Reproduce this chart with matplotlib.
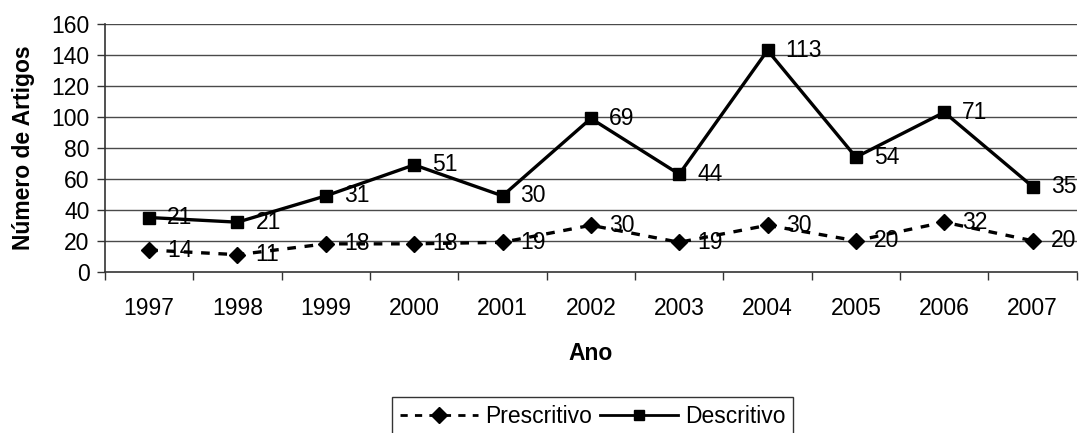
import numpy as np
import matplotlib
matplotlib.use("Agg")
import matplotlib.pyplot as plt
from matplotlib.ticker import FixedLocator, NullFormatter

plt.rcParams["font.family"] = ["Liberation Sans", "DejaVu Sans"]

anos = ["1997", "1998", "1999", "2000", "2001", "2002", "2003", "2004", "2005", "2006", "2007"]
prescritivo = [14, 11, 18, 18, 19, 30, 19, 30, 20, 32, 20]
descritivo = [21, 21, 31, 51, 30, 69, 44, 113, 54, 71, 35]
y_ticks = [0, 20, 40, 60, 80, 100, 120, 140, 160]

FS = 16.5

# stacked line chart: descritivo sits on top of prescritivo
x = np.arange(len(anos))
pres = np.array(prescritivo)
topo = pres + np.array(descritivo)

fig = plt.figure(figsize=(10.8, 4.33), dpi=100)
ax = fig.add_axes([0.0972, 0.3725, 0.8998, 0.572])

for yv in y_ticks[1:]:
    ax.axhline(yv, color="#4a4a4a", linewidth=1.0, zorder=0)

ax.plot(x, pres, color="black", linewidth=2.4, linestyle=(0, (2.6, 2.6)),
        marker="D", markersize=8, label="Prescritivo", zorder=3)
ax.plot(x, topo, color="black", linewidth=2.4, linestyle="-",
        marker="s", markersize=8, label="Descritivo", zorder=3)

for xi, yv, v in zip(x, pres, prescritivo):
    ax.annotate(str(v), (xi, yv), xytext=(13, 0), textcoords="offset points",
                ha="left", va="center", fontsize=FS, zorder=4)
for xi, yv, v in zip(x, topo, descritivo):
    ax.annotate(str(v), (xi, yv), xytext=(13, 0), textcoords="offset points",
                ha="left", va="center", fontsize=FS, zorder=4)

ax.set_xlim(-0.5, len(anos) - 0.5)
ax.set_ylim(0, 160)
ax.set_yticks(y_ticks)

# category boundaries carry the tick marks, labels sit at centres
ax.xaxis.set_major_locator(FixedLocator(np.arange(-0.5, len(anos), 1.0)))
ax.xaxis.set_major_formatter(NullFormatter())
ax.xaxis.set_minor_locator(FixedLocator(x))
ax.set_xticklabels(anos, minor=True)
ax.tick_params(axis="x", which="major", length=6, width=1, direction="out", color="#333333")
ax.tick_params(axis="x", which="minor", length=0, pad=18, labelsize=FS)
ax.tick_params(axis="y", length=6, width=1, direction="out", labelsize=FS, pad=5,
               color="#333333")

for side in ["top", "right"]:
    ax.spines[side].set_visible(False)
for side in ["left", "bottom"]:
    ax.spines[side].set_color("#333333")
    ax.spines[side].set_linewidth(1.2)

ax.set_xlabel("Ano", fontsize=FS, fontweight="bold", labelpad=16)
ax.set_ylabel("Número de Artigos", fontsize=FS, fontweight="bold")
ax.yaxis.set_label_coords(-0.072, 0.5)

leg = fig.legend(loc="upper center", bbox_to_anchor=(0.549, 0.084), ncol=2,
                 fontsize=FS, frameon=True, fancybox=False, handlelength=3.4,
                 columnspacing=0.35, handletextpad=0.3, borderpad=0.35,
                 borderaxespad=0)
leg.get_frame().set_edgecolor("black")
leg.get_frame().set_linewidth(1.0)
for h, ms in zip(leg.legend_handles, [8, 6.5]):
    h.set_markersize(ms)
    h.set_linewidth(2.0)

fig.savefig("out.png", dpi=100)
